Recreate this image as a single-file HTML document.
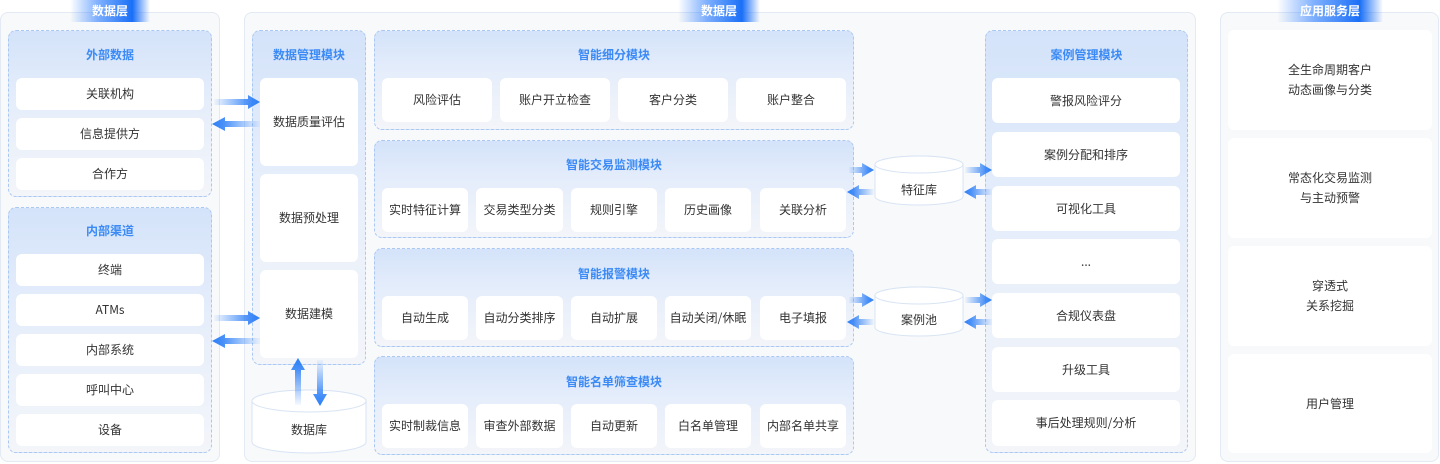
<!DOCTYPE html>
<html><head><meta charset="utf-8"><style>
*{margin:0;padding:0;box-sizing:border-box}
body{width:1440px;height:464px;background:#fff;position:relative;overflow:hidden;font-family:"Liberation Sans","Noto Sans CJK SC",sans-serif;}
.panel{position:absolute;background:#f8f9fa;border:1px solid #e3eaf4;border-radius:8px}
.grp{position:absolute;border:1px dashed #a9c8f3;border-radius:8px;background:linear-gradient(180deg,#d4e3fa 0%,#e6eefb 45%,#f3f5f9 100%)}
.gt{position:absolute;left:0;right:0;text-align:center;color:#3b8af5;font-weight:bold;font-size:12px;line-height:16px;font-family:"Noto Sans CJK SC",sans-serif}
.it{position:absolute;background:#fff;border-radius:6px;display:flex;align-items:center;justify-content:center;font-size:12px;color:#333;text-align:center;line-height:20px;font-family:"Noto Sans CJK SC",sans-serif}
.badge{position:absolute;top:0;height:22px;line-height:22px;text-align:center;color:#fff;font-weight:bold;font-size:12px;font-family:"Noto Sans CJK SC",sans-serif;background:linear-gradient(90deg,rgba(22,112,255,0) 0%,rgba(22,112,255,.55) 35%,#1a6ff7 78%,rgba(22,112,255,0) 100%)}
.lbl{position:absolute;text-align:center;font-size:12px;color:#333;line-height:16px;font-family:"Noto Sans CJK SC",sans-serif}
</style></head><body>

<!-- panels -->
<div class="panel" style="left:0;top:12px;width:220px;height:450px"></div>
<div class="panel" style="left:244px;top:12px;width:952px;height:450px"></div>
<div class="panel" style="left:1220px;top:12px;width:219px;height:450px"></div>

<div class="badge" style="left:70px;width:80px">数据层</div>
<div class="badge" style="left:678px;width:82px">数据层</div>
<div class="badge" style="left:1277px;width:106px">应用服务层</div>

<!-- left: external -->
<div class="grp" style="left:8px;top:30px;width:204px;height:167px"><div class="gt" style="top:16px">外部数据</div></div>
<div class="it" style="left:16px;top:78px;width:188px;height:32px">关联机构</div>
<div class="it" style="left:16px;top:118px;width:188px;height:32px">信息提供方</div>
<div class="it" style="left:16px;top:158px;width:188px;height:32px">合作方</div>

<!-- left: internal -->
<div class="grp" style="left:8px;top:207px;width:204px;height:246px"><div class="gt" style="top:15px">内部渠道</div></div>
<div class="it" style="left:16px;top:254px;width:188px;height:32px">终端</div>
<div class="it" style="left:16px;top:294px;width:188px;height:32px">ATMs</div>
<div class="it" style="left:16px;top:334px;width:188px;height:32px">内部系统</div>
<div class="it" style="left:16px;top:374px;width:188px;height:32px">呼叫中心</div>
<div class="it" style="left:16px;top:414px;width:188px;height:32px">设备</div>

<!-- data management -->
<div class="grp" style="left:252px;top:30px;width:114px;height:335px"><div class="gt" style="top:16px">数据管理模块</div></div>
<div class="it" style="left:260px;top:78px;width:98px;height:88px">数据质量评估</div>
<div class="it" style="left:260px;top:174px;width:98px;height:88px">数据预处理</div>
<div class="it" style="left:260px;top:270px;width:98px;height:88px">数据建模</div>

<!-- segmentation -->
<div class="grp" style="left:374px;top:30px;width:480px;height:100px"><div class="gt" style="top:16px">智能细分模块</div></div>
<div class="it" style="left:382px;top:78px;width:110px;height:44px">风险评估</div>
<div class="it" style="left:500px;top:78px;width:110px;height:44px">账户开立检查</div>
<div class="it" style="left:618px;top:78px;width:110px;height:44px">客户分类</div>
<div class="it" style="left:736px;top:78px;width:110px;height:44px">账户整合</div>

<!-- transaction monitoring -->
<div class="grp" style="left:374px;top:140px;width:480px;height:98px"><div class="gt" style="top:16px">智能交易监测模块</div></div>
<div class="it" style="left:382px;top:188px;width:86px;height:44px">实时特征计算</div>
<div class="it" style="left:476px;top:188px;width:87px;height:44px">交易类型分类</div>
<div class="it" style="left:571px;top:188px;width:86px;height:44px">规则引擎</div>
<div class="it" style="left:665px;top:188px;width:86px;height:44px">历史画像</div>
<div class="it" style="left:760px;top:188px;width:86px;height:44px">关联分析</div>

<!-- alert -->
<div class="grp" style="left:374px;top:248px;width:480px;height:99px"><div class="gt" style="top:17px">智能报警模块</div></div>
<div class="it" style="left:382px;top:296px;width:86px;height:44px">自动生成</div>
<div class="it" style="left:476px;top:296px;width:87px;height:44px">自动分类排序</div>
<div class="it" style="left:571px;top:296px;width:86px;height:44px">自动扩展</div>
<div class="it" style="left:665px;top:296px;width:86px;height:44px">自动关闭/休眠</div>
<div class="it" style="left:760px;top:296px;width:86px;height:44px">电子填报</div>

<!-- watchlist -->
<div class="grp" style="left:374px;top:356px;width:480px;height:99px"><div class="gt" style="top:17px">智能名单筛查模块</div></div>
<div class="it" style="left:382px;top:404px;width:86px;height:44px">实时制裁信息</div>
<div class="it" style="left:476px;top:404px;width:87px;height:44px">审查外部数据</div>
<div class="it" style="left:571px;top:404px;width:86px;height:44px">自动更新</div>
<div class="it" style="left:665px;top:404px;width:86px;height:44px">白名单管理</div>
<div class="it" style="left:760px;top:404px;width:86px;height:44px">内部名单共享</div>

<!-- case management -->
<div class="grp" style="left:985px;top:30px;width:203px;height:423px"><div class="gt" style="top:16px">案例管理模块</div></div>
<div class="it" style="left:992px;top:78px;width:188px;height:45px">警报风险评分</div>
<div class="it" style="left:992px;top:132px;width:188px;height:45px">案例分配和排序</div>
<div class="it" style="left:992px;top:186px;width:188px;height:45px">可视化工具</div>
<div class="it" style="left:992px;top:239px;width:188px;height:45px">...</div>
<div class="it" style="left:992px;top:293px;width:188px;height:45px">合规仪表盘</div>
<div class="it" style="left:992px;top:347px;width:188px;height:45px">升级工具</div>
<div class="it" style="left:992px;top:400px;width:188px;height:46px">事后处理规则/分析</div>

<!-- application layer -->
<div class="it" style="left:1228px;top:30px;width:204px;height:100px">全生命周期客户<br>动态画像与分类</div>
<div class="it" style="left:1228px;top:138px;width:204px;height:100px">常态化交易监测<br>与主动预警</div>
<div class="it" style="left:1228px;top:246px;width:204px;height:100px">穿透式<br>关系挖掘</div>
<div class="it" style="left:1228px;top:354px;width:204px;height:99px">用户管理</div>

<!-- cylinders & arrows -->
<svg width="1440" height="464" style="position:absolute;left:0;top:0" xmlns="http://www.w3.org/2000/svg">
<defs>
<linearGradient id="gr" x1="0" y1="0" x2="1" y2="0"><stop offset="0" stop-color="#2b7ef7" stop-opacity="0.04"/><stop offset="0.75" stop-color="#2b7ef7" stop-opacity="0.85"/><stop offset="1" stop-color="#2b7ef7"/></linearGradient>
<linearGradient id="gl" x1="1" y1="0" x2="0" y2="0"><stop offset="0" stop-color="#2b7ef7" stop-opacity="0.04"/><stop offset="0.75" stop-color="#2b7ef7" stop-opacity="0.85"/><stop offset="1" stop-color="#2b7ef7"/></linearGradient>
<linearGradient id="gu" x1="0" y1="1" x2="0" y2="0"><stop offset="0" stop-color="#2b7ef7" stop-opacity="0.04"/><stop offset="0.75" stop-color="#2b7ef7" stop-opacity="0.85"/><stop offset="1" stop-color="#2b7ef7"/></linearGradient>
<linearGradient id="gd" x1="0" y1="0" x2="0" y2="1"><stop offset="0" stop-color="#2b7ef7" stop-opacity="0.04"/><stop offset="0.75" stop-color="#2b7ef7" stop-opacity="0.85"/><stop offset="1" stop-color="#2b7ef7"/></linearGradient>
</defs>

<!-- database cylinder -->
<path d="M252,401 A57,11 0 0 1 366,401 L366,442 A57,11 0 0 1 252,442 Z" fill="#fff" stroke="#d8e4f4" stroke-width="1"/>
<ellipse cx="309" cy="401" rx="57" ry="11" fill="#fff" stroke="#d8e4f4" stroke-width="1"/>
<!-- feature store -->
<path d="M875,164.5 A44,8.5 0 0 1 963,164.5 L963,196.5 A44,8.5 0 0 1 875,196.5 Z" fill="#fff" stroke="#d8e4f4" stroke-width="1"/>
<ellipse cx="919" cy="164.5" rx="44" ry="8.5" fill="#fff" stroke="#d8e4f4" stroke-width="1"/>
<!-- case pool -->
<path d="M875,295.5 A44,8.5 0 0 1 963,295.5 L963,327.5 A44,8.5 0 0 1 875,327.5 Z" fill="#fff" stroke="#d8e4f4" stroke-width="1"/>
<ellipse cx="919" cy="295.5" rx="44" ry="8.5" fill="#fff" stroke="#d8e4f4" stroke-width="1"/>

<!-- left <-> data mgmt -->
<polygon fill="url(#gr)" points="214,99 248,99 248,95 260,102 248,109 248,105 214,105"/>
<polygon fill="url(#gl)" points="260,121 225,121 225,117 212,124 225,131 225,127 260,127"/>
<polygon fill="url(#gr)" points="214,315 248,315 248,311 260,318 248,325 248,321 214,321"/>
<polygon fill="url(#gl)" points="260,338 225,338 225,334 212,341 225,348 225,344 260,344"/>

<!-- vertical db arrows -->
<polygon fill="url(#gu)" points="295,405 295,370 291,370 298,358 305,370 301,370 301,405"/>
<polygon fill="url(#gd)" points="317,360 317,394 313,394 320,406 327,394 323,394 323,360"/>

<!-- feature store arrows -->
<polygon fill="url(#gr)" points="849,167 862,167 862,163 874,170 862,177 862,173 849,173"/>
<polygon fill="url(#gl)" points="874,189 859,189 859,185 847,192 859,199 859,195 874,195"/>
<polygon fill="url(#gr)" points="965,167 980,167 980,163 992,170 980,177 980,173 965,173"/>
<polygon fill="url(#gl)" points="992,189 976,189 976,185 964,192 976,199 976,195 992,195"/>

<!-- case pool arrows -->
<polygon fill="url(#gr)" points="849,297 862,297 862,293 874,300 862,307 862,303 849,303"/>
<polygon fill="url(#gl)" points="874,319 859,319 859,315 847,322 859,329 859,325 874,325"/>
<polygon fill="url(#gr)" points="965,297 980,297 980,293 992,300 980,307 980,303 965,303"/>
<polygon fill="url(#gl)" points="992,319 976,319 976,315 964,322 976,329 976,325 992,325"/>
</svg>

<div class="lbl" style="left:252px;top:422px;width:114px">数据库</div>
<div class="lbl" style="left:875px;top:182px;width:88px">特征库</div>
<div class="lbl" style="left:875px;top:312px;width:88px">案例池</div>

</body></html>
